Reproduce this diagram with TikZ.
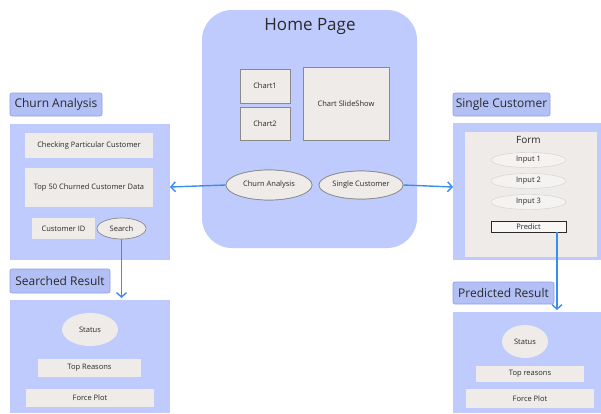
\documentclass[tikz,border=0pt]{standalone}
\usepackage{fontspec}
\setmainfont{Open Sans}
\usetikzlibrary{arrows.meta,shapes.geometric,positioning}

\definecolor{panel}{HTML}{BFCBFC}
\definecolor{tagfill}{HTML}{B3C0F6}
\definecolor{tagline}{HTML}{8E9EE2}
\definecolor{widget}{HTML}{EEEBE9}
\definecolor{widgetline}{HTML}{8A8A8A}
\definecolor{link}{HTML}{3A8EF0}
\definecolor{ink}{HTML}{2A2A2A}

\tikzset{
	panelbox/.style={fill=panel, draw=none},
	tagbox/.style={fill=tagfill, draw=tagline, rounded corners=2pt, line width=0.6pt,
		inner sep=0pt, text=ink, font=\fontsize{12}{13}\selectfont},
	widgetbox/.style={fill=widget, draw=none, inner sep=0pt, text=ink, font=\fontsize{7.5}{9}\selectfont},
	framebox/.style={fill=widget, draw=widgetline, line width=0.7pt, inner sep=0pt, text=ink,
		font=\fontsize{7.5}{9}\selectfont},
	pillnode/.style={ellipse, fill=widget, draw=widgetline, line width=0.7pt, inner sep=0pt, text=ink,
		font=\fontsize{7.5}{9}\selectfont},
	blobnode/.style={ellipse, fill=widget, draw=none, inner sep=0pt, text=ink,
		font=\fontsize{7.5}{9}\selectfont},
	linkarrow/.style={draw=link, line width=1.4pt, -{Straight Barb[length=4.5pt,width=10pt]}}
}

\begin{document}
\begin{tikzpicture}[x=1pt, y=-1pt]

	\useasboundingbox (0,0) rectangle (601,413);

	%home page
	\fill[panel, rounded corners=30pt] (202,10) rectangle (417,248);
	\node[text=ink, font=\fontsize{17}{19}\selectfont] (homeTitle) at (310,26) {Home Page};

	\node[framebox, minimum width=50pt, minimum height=34pt] (chartOne) at (265,86) {Chart1};
	\node[framebox, minimum width=50pt, minimum height=33pt] (chartTwo) at (265,123.5) {Chart2};
	\node[framebox, minimum width=86pt, minimum height=73pt] (slideShow) at (346,103.5) {Chart SlideShow};

	\node[pillnode, minimum width=86pt, minimum height=30pt] (churnBtn) at (269,185) {Churn Analysis};
	\node[pillnode, minimum width=84pt, minimum height=28pt] (singleBtn) at (361,185) {Single Customer};

	%churn analysis page
	\node[tagbox, minimum width=92pt, minimum height=23pt] (churnTag) at (56,104.5) {Churn Analysis};
	\fill[panel] (10,124) rectangle (170,260);
	\coordinate (churnEdge) at (170,187);

	\node[widgetbox, minimum width=128pt, minimum height=25pt] (checkBox) at (89,145.5) {Checking Particular Customer};
	\node[widgetbox, minimum width=128pt, minimum height=39pt] (topBox) at (89,187.5) {Top 50 Churned Customer Data};
	\node[widgetbox, minimum width=63pt, minimum height=21pt] (idBox) at (63.5,228.5) {Customer ID};
	\node[pillnode, minimum width=49pt, minimum height=21pt] (searchBtn) at (121.5,228.5) {Search};

	%searched result page
	\node[tagbox, minimum width=100pt, minimum height=24pt] (searchTag) at (60,281) {Searched Result};
	\fill[panel] (10,300) rectangle (170,413);
	\coordinate (searchEdge) at (121.5,298);

	\node[blobnode, minimum width=56pt, minimum height=33pt] (leftStatus) at (90,329.5) {Status};
	\node[widgetbox, minimum width=103pt, minimum height=18pt] (leftReasons) at (89.5,368) {Top Reasons};
	\node[widgetbox, minimum width=128pt, minimum height=18pt] (leftForce) at (90,398) {Force Plot};

	%single customer page
	\node[tagbox, minimum width=97pt, minimum height=23pt] (singleTag) at (501.5,104.5) {Single Customer};
	\fill[panel] (453,123) rectangle (601,260);
	\fill[widget] (465,132) rectangle (597,257);
	\coordinate (singleEdge) at (453,187);

	\node[text=ink, font=\fontsize{10}{12}\selectfont] (formTitle) at (528.5,140) {Form};
	\foreach \k/\yy in {1/160, 2/181, 3/202}
		\node[blobnode, fill=white!40!widget, draw=widget!75!gray, minimum width=75pt, minimum height=15pt]
			(input\k) at (528.5,\yy) {Input \k};
	\node[framebox, fill=white!60!widget, draw=ink, minimum width=75pt, minimum height=11pt] (predictBtn) at (528.5,226.5) {Predict};

	%predicted result page
	\node[tagbox, minimum width=101pt, minimum height=22pt] (predTag) at (503.5,293) {Predicted Result};
	\fill[panel] (453,312) rectangle (601,413);
	\coordinate (predEdge) at (557,310);

	\node[blobnode, minimum width=46pt, minimum height=33pt] (rightStatus) at (525,341.5) {Status};
	\node[widgetbox, minimum width=108pt, minimum height=16pt] (rightReasons) at (530,374) {Top reasons};
	\node[widgetbox, minimum width=128pt, minimum height=19pt] (rightForce) at (530,398.5) {Force Plot};

	%links
	\draw[linkarrow] (churnBtn.west) -- (churnEdge);
	\draw[linkarrow] (singleBtn.east) -- (singleEdge);
	\draw[linkarrow] (searchBtn.south) -- (searchEdge);
	\draw[linkarrow] (predictBtn.south -| predEdge) -- (predEdge);

	% buttons stay on top of their links
	\node[pillnode, minimum width=86pt, minimum height=30pt] at (churnBtn) {Churn Analysis};
	\node[pillnode, minimum width=84pt, minimum height=28pt] at (singleBtn) {Single Customer};

\end{tikzpicture}
\end{document}
